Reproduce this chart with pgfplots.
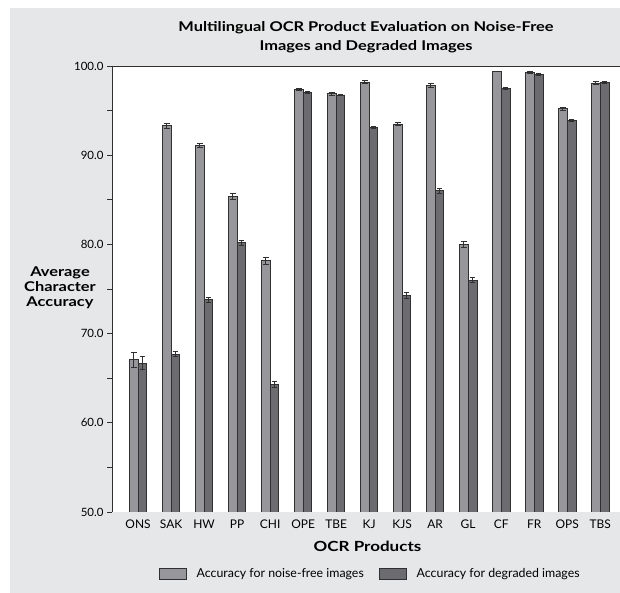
\documentclass[border=0pt]{standalone}
\usepackage{pgfplots}
\pgfplotsset{compat=1.18}
\usepackage{pgfplotstable}
\usepackage{fontspec}
\setmainfont{Lato}
\newfontfamily\hfont[FakeStretch=1.22]{Lato}
\definecolor{bgray}{HTML}{E6E7E8}
\definecolor{lightbar}{HTML}{97979B}
\definecolor{darkbar}{HTML}{6C6C70}
\definecolor{edge}{HTML}{303030}

\pgfplotstableread{
x y e
0 67.1 0.85
1 93.3 0.25
2 91.1 0.25
3 85.4 0.3
4 78.2 0.4
5 97.4 0.1
6 96.9 0.15
7 98.2 0.15
8 93.5 0.15
9 97.8 0.2
10 80.0 0.3
11 99.4 0.05
12 99.25 0.1
13 95.2 0.2
14 98.1 0.15
}\noisefree
\pgfplotstableread{
x y e
0 66.7 0.7
1 67.7 0.3
2 73.8 0.3
3 80.2 0.3
4 64.3 0.35
5 97.0 0.1
6 96.75 0.1
7 93.1 0.1
8 74.3 0.3
9 86.0 0.25
10 76.0 0.3
11 97.5 0.1
12 99.1 0.1
13 93.9 0.15
14 98.15 0.1
}\degraded

\begin{document}
\begin{tikzpicture}[x=1bp,y=1bp]
\path[use as bounding box] (0,0) rectangle (620,593);
\fill[bgray] (10,0) rectangle (620,585);
\begin{axis}[
  at={(112bp,81bp)}, anchor=south west,
  scale only axis, width=508bp, height=446bp,
  axis background/.style={fill=white},
  axis line style={draw=none},
  ybar=0pt, bar width=8.7bp,
  xmin=-0.79, xmax=14.6,
  ymin=50, ymax=100,
  xtick=data,
  xticklabels={ONS,SAK,HW,PP,CHI,OPE,TBE,KJ,KJS,AR,GL,CF,FR,OPS,TBS},
  xtick style={draw=none},
  xticklabel style={font=\fontsize{12}{14}\selectfont, yshift=1bp},
  ytick={50,60,...,100},
  minor ytick={55,65,...,95},
  ytick pos=left, tick align=outside,
  major tick length=5bp, minor tick length=5bp,
  ytick style={edge, line width=0.6pt},
  every minor tick/.style={edge, line width=0.6pt},
  yticklabel style={font=\fontsize{11.5}{13}\selectfont, /pgf/number format/.cd, fixed, fixed zerofill, precision=1, assume math mode=true},
  /pgf/number format/assume math mode=true,
  clip=true,
]
\addplot[fill=lightbar, draw=edge, line width=0.75pt,
  error bars/.cd, y dir=both, y explicit,
  error bar style={edge, line width=0.75pt},
  error mark options={rotate=90, mark size=2.8bp, edge, line width=0.75pt}]
  table[x=x, y=y, y error=e] {\noisefree};
\addplot[fill=darkbar, draw=edge, line width=0.75pt,
  error bars/.cd, y dir=both, y explicit,
  error bar style={edge, line width=0.75pt},
  error mark options={rotate=90, mark size=2.8bp, edge, line width=0.75pt}]
  table[x=x, y=y, y error=e] {\degraded};
\draw[edge, line width=0.8pt] (rel axis cs:0,1) -- (rel axis cs:0,0) -- (rel axis cs:1,0);
\draw[edge, line width=0.8pt] (rel axis cs:0,1) -- (rel axis cs:1,1);
\end{axis}
% title
\node[font=\hfont\bfseries\fontsize{13.5}{18.7}\selectfont, align=center] at (366,556)
  {Multilingual OCR Product Evaluation on Noise-Free\\Images and Degraded Images};
% y label
\node[font=\hfont\bfseries\fontsize{13.5}{15.3}\selectfont, align=center] at (60,305)
  {Average\\Character\\Accuracy};
% x label
\node[font=\hfont\bfseries\fontsize{14}{16}\selectfont] at (367.5,47) {OCR Products};
% legend
\draw[edge, line width=0.6pt, fill=lightbar] (159.5,14) rectangle (186.5,25);
\node[anchor=west, inner xsep=0pt, font=\fontsize{12.4}{14}\selectfont] at (196.5,18.5) {Accuracy for noise-free images};
\draw[edge, line width=0.6pt, fill=darkbar] (379.5,14) rectangle (406.5,25);
\node[anchor=west, inner xsep=0pt, font=\fontsize{12.4}{14}\selectfont] at (416.5,18.5) {Accuracy for degraded images};
\end{tikzpicture}
\end{document}
